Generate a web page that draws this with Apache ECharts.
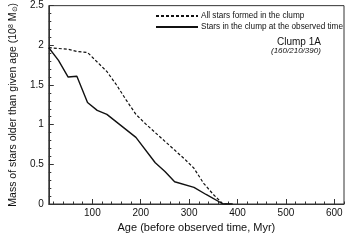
<!DOCTYPE html>
<html><head><meta charset="utf-8">
<script src="https://cdn.jsdelivr.net/npm/echarts@6/dist/echarts.min.js"></script>
<style>html,body{margin:0;padding:0;background:#fff}#c{width:349px;height:246px}</style>
</head><body><div id="c"></div>
<script>
const allAges   = [10, 50, 70, 90, 110, 130, 150, 170, 190, 210, 230, 250, 270, 290, 310, 330, 350, 370, 385];
const allMass   = [1.97, 1.95, 1.92, 1.91, 1.79, 1.67, 1.50, 1.31, 1.13, 1.01, 0.90, 0.79, 0.68, 0.57, 0.45, 0.26, 0.12, 0.0, 0.0];
const nowAges   = [10, 30, 50, 68, 90, 110, 130, 190, 230, 250, 270, 310, 335, 370, 390];
const nowMass   = [1.97, 1.81, 1.60, 1.61, 1.28, 1.18, 1.13, 0.84, 0.52, 0.41, 0.28, 0.21, 0.12, 0.0, 0.0];
const xMajor    = [100, 200, 300, 400, 500, 600];
const xMinor    = [20, 40, 60, 80, 120, 140, 160, 180, 220, 240, 260, 280, 320, 340, 360, 380, 420, 440, 460, 480, 520, 540, 560, 580, 620];
const seriesNames = ['All stars formed in the clump', 'Stars in the clump at the observed time'];
const clumpTitle = 'Clump 1A';
const clumpSub = '(160/210/390)';

const font = 'Liberation Sans, Arial, Helvetica, sans-serif';
const ink = '#111';
const chart = echarts.init(document.getElementById('c'), null, {renderer: 'canvas'});
chart.setOption({
  animation: false,
  backgroundColor: '#fff',
  grid: {left: 41, right: 5, top: 5, bottom: 42, show: true, borderColor: '#333', borderWidth: 1},
  xAxis: [{
    type: 'value', min: 10, max: 620,
    name: 'Age (before observed time, Myr)', nameLocation: 'middle', nameGap: 15,
    nameTextStyle: {fontFamily: font, fontSize: 11, color: ink},
    axisLine: {show: true, lineStyle: {color: '#333', width: 1}},
    axisTick: {show: true, inside: true, length: 5, customValues: xMajor, lineStyle: {color: '#333'}},
    axisLabel: {show: true, customValues: xMajor, margin: 4, fontFamily: font, fontSize: 10, color: ink},
    splitLine: {show: false}
  }, {
    type: 'value', min: 10, max: 620, position: 'bottom',
    axisLine: {show: false},
    axisTick: {show: true, inside: true, length: 2.5, customValues: xMinor, lineStyle: {color: '#333'}},
    axisLabel: {show: false},
    splitLine: {show: false}
  }],
  yAxis: {
    type: 'value', min: 0, max: 2.5, interval: 0.5,
    name: 'Mass of stars older than given age (10{sup|8} M{sub|⊙})',
    nameLocation: 'middle', nameGap: 23, nameRotate: 90,
    nameTextStyle: {fontFamily: font, fontSize: 10.5, color: ink,
      rich: {sup: {fontSize: 7, verticalAlign: 'top', fontFamily: font, color: ink},
             sub: {fontSize: 7, fontFamily: font, color: ink, verticalAlign: 'bottom'}}},
    axisLine: {show: true, lineStyle: {color: '#333', width: 1}},
    axisTick: {show: true, inside: true, length: 5, lineStyle: {color: '#333'}},
    minorTick: {show: true, splitNumber: 5, length: 2.5, lineStyle: {color: '#333'}},
    axisLabel: {margin: 5, fontFamily: font, fontSize: 10, color: ink},
    splitLine: {show: false}
  },
  legend: {
    orient: 'vertical', left: 155, top: 12, padding: 0, itemWidth: 42, itemHeight: 8, itemGap: 3,
    itemStyle: {opacity: 0},
    textStyle: {fontFamily: font, fontSize: 8.2, color: ink, padding: [0,0,0,-2]},
    data: seriesNames
  },
  graphic: [
    {type: 'text', left: 277, top: 37, style: {text: clumpTitle, font: '10px ' + font, fill: ink}},
    {type: 'text', left: 271, top: 47, style: {text: clumpSub, font: 'italic 8px ' + font, fill: ink}}
  ],
  series: [{
    name: seriesNames[0], type: 'line', symbol: 'none',
    data: allAges.map((a, i) => [a, allMass[i]]),
    lineStyle: {color: ink, width: 1.2, type: [3, 2]}, itemStyle: {color: ink}
  }, {
    name: seriesNames[1], type: 'line', symbol: 'none',
    data: nowAges.map((a, i) => [a, nowMass[i]]),
    lineStyle: {color: ink, width: 1.4, type: 'solid'}, itemStyle: {color: ink}
  }]
});
</script></body></html>
